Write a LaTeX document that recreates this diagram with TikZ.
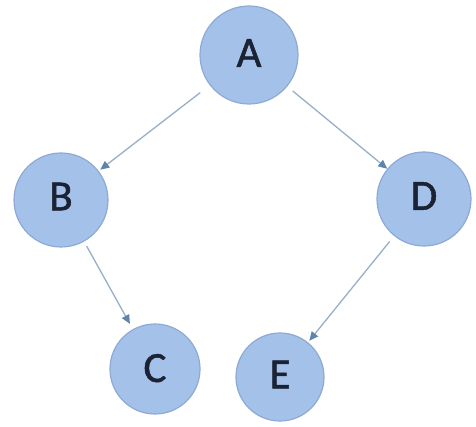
\documentclass[tikz,border=0pt]{standalone}
\usepackage{fontspec}
\setmainfont{Carlito}
\newfontfamily\lblfont{Carlito}[FakeBold=1.2]
\usetikzlibrary{arrows.meta}
\definecolor{nodefill}{HTML}{A4C1EA}
\definecolor{nodeedge}{HTML}{8EAAD4}
\definecolor{edgecol}{HTML}{98AFC9}
\definecolor{tipcol}{HTML}{5F84AE}
\definecolor{txtcol}{HTML}{1B2233}
\tikzset{
  vertex/.style={circle, fill=nodefill, draw=nodeedge, line width=1.2pt, inner sep=0pt,
    text=txtcol, font=\lblfont\fontsize{43}{45}\selectfont},
  link/.style={draw=edgecol, line width=1.3pt,
    -{Triangle[length=9pt,width=8pt,color=tipcol]}}
}
\begin{document}
\begin{tikzpicture}[x=1pt,y=1pt]
\useasboundingbox (0,0) rectangle (476,426);
\node[vertex, minimum size=98pt] (A) at (249,371) {\raisebox{4pt}{A}};
\node[vertex, minimum size=94pt] (B) at (61,226) {\raisebox{7pt}{B}};
\node[vertex, minimum size=94pt] (D) at (424,227) {\raisebox{6pt}{D}};
\node[vertex, minimum size=90pt] (C) at (155,57) {\raisebox{2pt}{C}};
\node[vertex, minimum size=88pt] (E) at (280,49) {\raisebox{5pt}{E}};
\draw[link, shorten <=12pt, shorten >=2pt] (A) -- (B);
\draw[link, shorten <=7pt, shorten >=0pt] (A) -- (D);
\draw[link, shorten <=5pt, shorten >=6pt] (B) -- (C);
\draw[link, shorten <=7pt, shorten >=2pt] (D) -- (E);
\end{tikzpicture}
\end{document}
